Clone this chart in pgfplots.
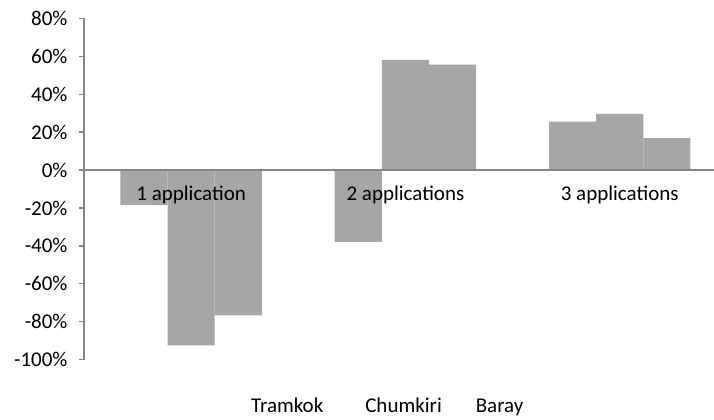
\documentclass[border=0pt]{standalone}
\usepackage{pgfplots}
\pgfplotsset{compat=1.18}
\usepackage{fontspec}
\setmainfont{Carlito}
\definecolor{bargray}{RGB}{166,166,166}
\definecolor{axgray}{RGB}{134,134,134}
\newcommand{\chartfont}{\fontsize{21bp}{25bp}\selectfont}
\begin{document}
\begin{tikzpicture}[x=1bp,y=1bp]
\path[use as bounding box] (0,0) rectangle (714,419);
\begin{axis}[
  at={(84bp,59.5bp)}, anchor=south west,
  scale only axis, width=630bp, height=341bp,
  xmin=-0.5, xmax=2.44, ymin=-100, ymax=80,
  axis y line*=left, axis x line*=middle,
  axis line style={axgray, line width=1.5bp, -},
  ybar=0pt, bar width=0.22,
  ytick={-100,-80,-60,-40,-20,0,20,40,60,80},
  yticklabels={-100\%,-80\%,-60\%,-40\%,-20\%,0\%,20\%,40\%,60\%,80\%},
  ytick style={axgray, line width=1.5bp},
  tick align=outside,
  major tick length=5bp,
  xtick={0,1,2},
  xticklabels={1 application,2 applications,3 applications},
  xtick style={draw=none},
  extra x ticks={0.5,1.5},
  extra x tick labels={},
  extra x tick style={xtick style={axgray, line width=1.5bp}, major tick length=5bp},
  tick label style={font=\chartfont, text=black},
  yticklabel style={xshift=-8bp},
  xticklabel style={yshift=-7bp},
  axis on top,
  legend columns=3,
  legend style={draw=none, fill=none, font=\chartfont, at={(0.0,-0.137)}, anchor=west,
    xshift=162bp,
    /tikz/column 2/.style={column sep=38bp},
    /tikz/column 4/.style={column sep=30bp}},
  legend image code/.code={},
]
\addplot[fill=bargray, draw=none] coordinates {(0,-18.5) (1,-37.9) (2,25.6)};
\addplot[fill=bargray, draw=none] coordinates {(0,-92.6) (1,58.2) (2,29.6)};
\addplot[fill=bargray, draw=none] coordinates {(0,-76.7) (1,55.6) (2,16.9)};
\legend{Tramkok,Chumkiri,Baray}
\end{axis}
\end{tikzpicture}
\end{document}
